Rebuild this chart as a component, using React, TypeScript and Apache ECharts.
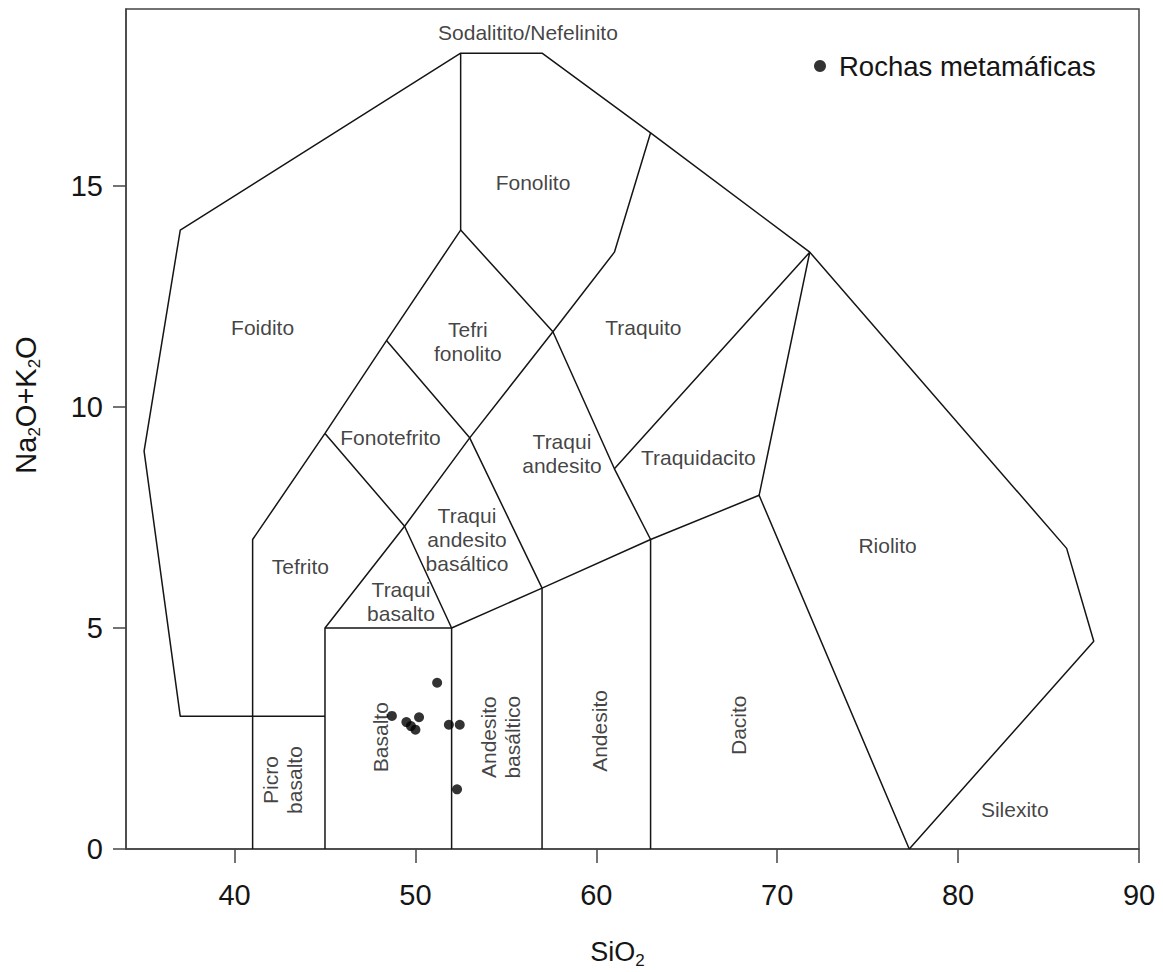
import React, { useEffect, useRef } from "react";
import * as echarts from "echarts";

const FONT = "'Liberation Sans', Arial, sans-serif";

const xTicks = [40, 50, 60, 70, 80, 90];
const yTicks = [0, 5, 10, 15];

// TAS field boundaries (SiO2, Na2O+K2O)
const outerBoundary = [[45, 3], [37, 3], [35, 9], [37, 14], [52.5, 18], [57, 18], [63, 16.2], [71.8, 13.5], [86, 6.8], [87.5, 4.7], [77.3, 0]];
const foiditeInner = [[41, 0], [41, 7], [45, 9.4], [48.4, 11.5], [52.5, 14], [52.5, 18]];
const basaltBox = [[45, 0], [45, 5], [52, 5], [52, 0]];
const basalticAndesiteLine = [[57, 0], [57, 5.9], [53, 9.3], [48.4, 11.5]];
const andesiteLine = [[63, 0], [63, 7], [61, 8.6], [57.6, 11.7], [52.5, 14]];
const lowerDiagonal = [[45, 9.4], [49.4, 7.3], [52, 5], [57, 5.9], [63, 7], [69, 8], [77.3, 0]];
const upperDiagonal = [[45, 5], [49.4, 7.3], [53, 9.3], [57.6, 11.7], [61, 13.5], [63, 16.2]];
const trachydaciteLine = [[61, 8.6], [71.8, 13.5], [69, 8]];

const boundaries = [outerBoundary, foiditeInner, basaltBox, basalticAndesiteLine, andesiteLine, lowerDiagonal, upperDiagonal, trachydaciteLine];

// Samples
const sampleSiO2 = [51.2, 48.7, 49.5, 49.75, 50.0, 50.2, 51.85, 52.45, 52.3];
const sampleAlkali = [3.76, 3.01, 2.87, 2.78, 2.7, 2.98, 2.81, 2.81, 1.35];
const seriesName = "Rochas metamáficas";

// Field names
const fieldNames = ["Sodalitito/Nefelinito", "Fonolito", "Foidito", "Tefri\nfonolito", "Traquito", "Fonotefrito", "Traqui\nandesito", "Traquidacito", "Traqui\nandesito\nbasáltico", "Traqui\nbasalto", "Tefrito", "Riolito", "Silexito", "Dacito", "Andesito", "Andesito\nbasáltico", "Basalto", "Picro\nbasalto"];
const fieldSiO2 = [56.22, 56.5, 41.55, 52.9, 62.6, 48.62, 58.1, 65.64, 52.85, 49.2, 43.64, 76.1, 83.13, 67.85, 60.15, 54.73, 48.07, 42.66];
const fieldAlkali = [18.47, 15.08, 11.8, 11.48, 11.8, 9.31, 8.95, 8.86, 7.0, 5.6, 6.38, 6.87, 0.9, 2.8, 2.67, 2.53, 2.53, 1.56];
const fieldRotate = [0, 0, 0, 0, 0, 0, 0, 0, 0, 0, 0, 0, 0, 90, 90, 90, 90, 90];

export default function App() {
  const ref = useRef<HTMLDivElement>(null);

  useEffect(() => {
    if (!ref.current) return;
    const chart = echarts.init(ref.current, undefined, { renderer: "svg" });

    const lineSeries = boundaries.map((b) => ({
      type: "line",
      data: b,
      symbol: "none",
      showSymbol: false,
      silent: true,
      lineStyle: { color: "#151515", width: 1.5 },
      z: 2,
    }));

    const option: any = {
      animation: false,
      backgroundColor: "#ffffff",
      textStyle: { fontFamily: FONT },
      grid: {
        left: 126,
        right: 24,
        top: 9,
        bottom: 123,
        show: true,
        borderColor: "#444",
        borderWidth: 1.5,
        containLabel: false,
        outerBoundsMode: "none",
      },
      legend: {
        data: [seriesName],
        left: 809,
        top: 47,
        icon: "circle",
        itemWidth: 12,
        itemHeight: 12,
        textStyle: { fontSize: 27.5, color: "#151515", fontFamily: FONT, padding: [0, 0, 0, 8] },
      },
      xAxis: {
        type: "value",
        min: 34,
        max: 90,
        axisLine: { show: true, onZero: false, lineStyle: { color: "#444", width: 1.5 } },
        axisTick: { show: true, length: 14, customValues: xTicks, lineStyle: { color: "#444", width: 1.5 } },
        axisLabel: { customValues: xTicks, fontSize: 29, color: "#151515", margin: 31, fontFamily: FONT },
        splitLine: { show: false },
        name: "SiO{s|2}",
        nameLocation: "middle",
        nameGap: 86,
        nameTextStyle: {
          fontSize: 27,
          color: "#151515",
          fontFamily: FONT,
          lineHeight: 34,
          padding: [0, 30, 0, 0],
          rich: { s: { fontSize: 17, verticalAlign: "bottom", color: "#151515", fontFamily: FONT } },
        },
      },
      yAxis: {
        type: "value",
        min: 0,
        max: 19,
        axisLine: { show: true, onZero: false, lineStyle: { color: "#444", width: 1.5 } },
        axisTick: { show: true, length: 13, customValues: yTicks, lineStyle: { color: "#444", width: 1.5 } },
        axisLabel: { customValues: yTicks, fontSize: 29, color: "#151515", margin: 23, fontFamily: FONT },
        splitLine: { show: false },
        name: "Na{s|2}O+K{s|2}O",
        nameLocation: "middle",
        nameGap: 83,
        nameTextStyle: {
          fontSize: 29,
          color: "#151515",
          fontFamily: FONT,
          lineHeight: 34,
          padding: [0, 0, 0, 48],
          rich: { s: { fontSize: 17, verticalAlign: "bottom", color: "#151515", fontFamily: FONT } },
        },
      },
      series: [
        ...lineSeries,
        {
          type: "scatter",
          name: "fields",
          silent: true,
          symbolSize: 1,
          itemStyle: { color: "rgba(0,0,0,0)" },
          z: 3,
          data: fieldNames.map((n, i) => ({
            name: n,
            value: [fieldSiO2[i], fieldAlkali[i]],
            label: { rotate: fieldRotate[i] },
          })),
          label: {
            show: true,
            position: "inside",
            formatter: "{b}",
            fontSize: 21,
            lineHeight: 24,
            color: "#111",
            fontFamily: FONT,
            align: "center",
            verticalAlign: "middle",
          },
        },
        {
          type: "scatter",
          name: seriesName,
          symbol: "circle",
          symbolSize: 10,
          itemStyle: { color: "#000" },
          z: 5,
          data: sampleSiO2.map((x, i) => [x, sampleAlkali[i]]),
        },
      ],
    };

    chart.setOption(option);
    return () => chart.dispose();
  }, []);

  return (
    <div
      ref={ref}
      style={{ position: "fixed", left: 0, top: 0, width: 1163, height: 972, background: "#fff" }}
    />
  );
}
